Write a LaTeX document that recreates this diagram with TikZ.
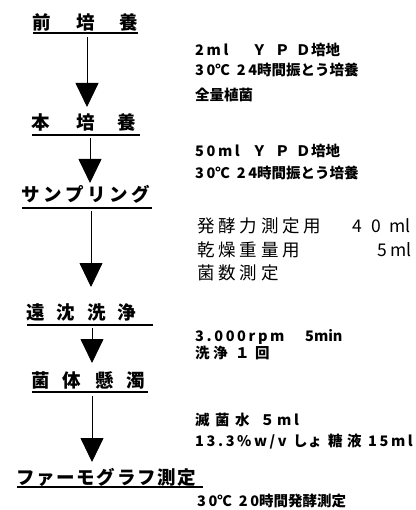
\documentclass[tikz,border=0pt]{standalone}
\usepackage{fontspec}
\setmainfont{Noto Sans CJK JP}
\newfontfamily\hw[LetterSpace=18]{Noto Sans CJK JP}
\usetikzlibrary{arrows.meta}
\newcommand{\cbx}[2]{\makebox[#1][l]{#2}}
\begin{document}
\begin{tikzpicture}[x=1pt,y=-1pt,
  lab/.style={anchor=west, inner sep=0pt, font=\fontsize{18.5}{18.5}\selectfont\bfseries, text height=15.5pt, text depth=2.5pt},
  note/.style={anchor=west, inner sep=0pt, font=\fontsize{14.5}{14.5}\selectfont\bfseries, text height=12.5pt, text depth=2pt},
  bignote/.style={anchor=west, inner sep=0pt, font=\fontsize{17.5}{17.5}\selectfont, text height=15pt, text depth=2.5pt},
  ul/.style={line width=1.1pt},
  flow/.style={line width=0.8pt, -{Triangle[width=23pt,length=24pt]}}]
\path[use as bounding box] (0,0) rectangle (415,510);

% step labels
\node[lab] (l1) at (32,23) {\cbx{44pt}{前}\cbx{43pt}{培}養};
\node[lab] (l2) at (31,123) {\cbx{45pt}{本}\cbx{41pt}{培}養};
\node[lab] (l3) at (21,195) {\cbx{22pt}{サ}\cbx{22pt}{ン}\cbx{22pt}{プ}\cbx{22pt}{リ}\cbx{22pt}{ン}グ};
\node[lab] (l4) at (26,313) {\cbx{30.5pt}{遠}\cbx{30.5pt}{沈}\cbx{30.5pt}{洗}浄};
\node[lab] (l5) at (31,381) {\cbx{31.5pt}{菌}\cbx{32.5pt}{体}\cbx{31.5pt}{懸}濁};
\node[lab] (l6) at (16,478) {\cbx{20.2pt}{フ}\cbx{20.2pt}{ァ}\cbx{20.2pt}{ー}\cbx{20.2pt}{モ}\cbx{20.2pt}{グ}\cbx{20.2pt}{ラ}\cbx{20.2pt}{フ}\cbx{20.2pt}{測}定};

% underlines
\coordinate (u1a) at (33,33);  \coordinate (u1b) at (138,33);
\coordinate (u2a) at (32,135); \coordinate (u2b) at (140,135);
\coordinate (u3a) at (22,208); \coordinate (u3b) at (152,208);
\coordinate (u4a) at (27,325); \coordinate (u4b) at (153,325);
\coordinate (u5a) at (32,392); \coordinate (u5b) at (148,392);
\coordinate (u6a) at (17,487); \coordinate (u6b) at (203,487);
\foreach \i in {1,...,6} \draw[ul] (u\i a) -- (u\i b);

% flow arrows
\coordinate (a1s) at (87,37);  \coordinate (a1e) at (87,107);
\coordinate (a2s) at (90,138); \coordinate (a2e) at (90,183);
\coordinate (a3s) at (91,211); \coordinate (a3e) at (91,287);
\coordinate (a4s) at (92,328); \coordinate (a4e) at (92,363);
\coordinate (a5s) at (92,396); \coordinate (a5e) at (92,462);
\foreach \i in {1,...,5} \draw[flow] (a\i s) -- (a\i e);

% notes
\node[note] (n1) at (195,50) {\cbx{57pt}{{\hw 2ml}}\cbx{23pt}{Ｙ}\cbx{21pt}{Ｐ}\cbx{15pt}{Ｄ}培地};
\node[note] (n2) at (195,70) {{\hw 30}℃\hspace{7pt}{\hw 24}時間振とう培養};
\node[note] (n3) at (195,95) {全量植菌};
\node[note] (n4) at (195,151) {\cbx{57pt}{{\hw 50ml}}\cbx{23pt}{Ｙ}\cbx{21pt}{Ｐ}\cbx{15pt}{Ｄ}培地};
\node[note] (n5) at (195,173) {{\hw 30}℃\hspace{7pt}{\hw 24}時間振とう培養};
\node[bignote] (n6) at (197,226) {\cbx{21.3pt}{発}\cbx{21.3pt}{酵}\cbx{21.3pt}{力}\cbx{21.3pt}{測}\cbx{21.3pt}{定}\cbx{49pt}{用}\cbx{19pt}{4}\cbx{18pt}{0}ml};
\node[bignote] (n7) at (197,250) {\cbx{21.3pt}{乾}\cbx{21.3pt}{燥}\cbx{21.3pt}{重}\cbx{21.3pt}{量}\cbx{95pt}{用}\cbx{13pt}{5}ml};
\node[bignote] (n8) at (197,273) {\cbx{21.3pt}{菌}\cbx{21.3pt}{数}\cbx{21.3pt}{測}定};
\node[note] (n9) at (195,336) {\cbx{110pt}{{\hw 3.000rpm}}5min};
\node[note] (n10) at (195,353) {\cbx{18pt}{洗}\cbx{22pt}{浄}\cbx{20pt}{１}回};
\node[note] (n11) at (195,420) {\cbx{20pt}{滅}\cbx{20pt}{菌}\cbx{25pt}{水}\cbx{17pt}{５}{\hw ml}};
\node[note] (n12) at (195,441) {\cbx{98pt}{{\hw 13.3\%w/v}}\cbx{35pt}{しょ}\cbx{19pt}{糖}\cbx{21pt}{液}{\hw 15ml}};
\node[note] (n13) at (197,501) {{\hw 30}℃\hspace{7pt}{\hw 20}時間発酵測定};
\end{tikzpicture}
\end{document}
